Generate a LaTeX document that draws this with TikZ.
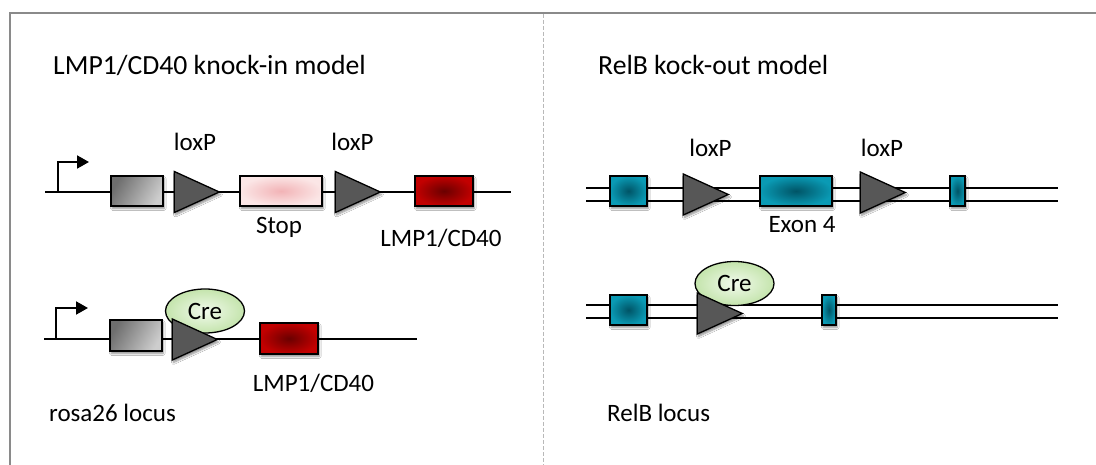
\documentclass[tikz,border=0pt]{standalone}
\usepackage{fontspec}
\setmainfont{Carlito}
\usetikzlibrary{arrows.meta,positioning,shapes.geometric,shadows.blur}
\definecolor{framegrey}{HTML}{8A8A8A}
\definecolor{loxgrey}{HTML}{575757}
\definecolor{greydark}{HTML}{6E6E6E}
\definecolor{greylight}{HTML}{CDCDCD}
\definecolor{stopin}{HTML}{F2B3B6}
\definecolor{stopout}{HTML}{FBE6E6}
\definecolor{lmpin}{HTML}{6A0000}
\definecolor{lmpout}{HTML}{C20000}
\definecolor{relin}{HTML}{005466}
\definecolor{relout}{HTML}{0A9AB4}
\definecolor{crein}{HTML}{F1FAEC}
\definecolor{creout}{HTML}{C4E4AC}

\begin{document}
\begin{tikzpicture}[
  x=1pt, y=-1pt,
  dna/.style={line width=2pt},
  dnadouble/.style={double, double distance=11pt, line width=2pt},
  prom/.style={line width=2pt, -{Triangle[length=12pt, width=13pt]}},
  exon/.style={draw, line width=2.2pt, inner sep=0pt, minimum height=30pt,
    blur shadow={shadow xshift=1.2pt, shadow yshift=-2.5pt, shadow blur steps=6, shadow opacity=45}},
  greybox/.style={left color=greydark, right color=greylight, shading angle=60},
  stopbox/.style={inner color=stopin, outer color=stopout},
  lmpbox/.style={inner color=lmpin, outer color=lmpout},
  relbox/.style={inner color=relin, outer color=relout},
  lox/.style={isosceles triangle, isosceles triangle stretches, shape border rotate=0,
    minimum width=41pt, minimum height=45pt, inner sep=0pt, anchor=apex,
    draw, line width=1.3pt, fill=loxgrey,
    blur shadow={shadow xshift=1.2pt, shadow yshift=-2.5pt, shadow blur steps=6, shadow opacity=45}},
  cre/.style={ellipse, draw, line width=1.3pt, inner color=crein, outer color=creout,
    minimum width=79pt, minimum height=44pt, inner sep=0pt, font=\fontsize{25}{30}\selectfont},
  lbl/.style={inner sep=0pt, anchor=base, font=\fontsize{25}{30}\selectfont},
  heading/.style={inner sep=0pt, anchor=base west, font=\fontsize{27.7}{33}\selectfont}
]
\useasboundingbox (0,0) rectangle (1096,465);
\fill[white] (0,0) rectangle (1096,465);
\draw[framegrey, line width=2pt] (10,465) -- (10,13) -- (1096,13);
\draw[gray!55, dashed, dash pattern=on 4pt off 2pt, line width=1pt] (543.5,14) -- (543.5,465);

\node[heading] (titleKI) at (53,75) {LMP1/CD40 knock-in model};
\node[heading] (titleKO) at (598,75) {RelB kock-out model};

\coordinate (startA) at (45,192);
\coordinate (endA) at (511,192);
\coordinate (tssA) at (58,192);
\draw[dna] (startA) -- (endA);
\draw[prom] (tssA) -- ++(0,-30) -- ++(31,0);
\node[exon, greybox, minimum width=52pt] (rosaA) at (137,191) {};
\node[lox] (loxA1) at (221,192) {};
\node[exon, stopbox, minimum width=82pt] (stopA) at (281,191) {};
\node[lox] (loxA2) at (382,192) {};
\node[exon, lmpbox, minimum width=58pt] (lmpA) at (444,191) {};
\node[lbl] (loxtA1) at (195,150.7) {loxP};
\node[lbl] (loxtA2) at (352.5,150.7) {loxP};
\node[lbl] (stoptA) at (279,233.3) {Stop};
\node[lbl] (lmptA) at (441,246.7) {LMP1/CD40};

\coordinate (startB) at (44,339);
\coordinate (endB) at (417,339);
\coordinate (tssB) at (56,339);
\draw[dna] (startB) -- (endB);
\draw[prom] (tssB) -- ++(0,-31) -- ++(32,0);
\node[exon, greybox, minimum width=52pt, minimum height=31pt] (rosaB) at (136,335.5) {};
\node[cre] (creB) at (205,311) {Cre};
\node[lox] (loxB) at (219,339.5) {};
\node[exon, lmpbox, minimum width=58pt, minimum height=31pt] (lmpB) at (289,338.5) {};
\node[lbl] (lmptB) at (313.5,391.7) {LMP1/CD40};
\node[lbl, anchor=base west] (locusB) at (49,421.7) {rosa26 locus};

\coordinate (startC) at (586,194.5);
\coordinate (endC) at (1058,194.5);
\draw[dnadouble] (startC) -- (endC);
\node[exon, relbox, minimum width=37pt] (exon3C) at (628.5,191) {};
\node[lox] (loxC1) at (730,194.5) {};
\node[exon, relbox, minimum width=72pt] (exon4C) at (796,191) {};
\node[lox] (loxC2) at (907,192.5) {};
\node[exon, relbox, minimum width=15pt] (exon5C) at (957.5,191) {};
\node[lbl] (loxtC1) at (710.5,156.7) {loxP};
\node[lbl] (loxtC2) at (882,156.7) {loxP};
\node[lbl] (exontC) at (802,232.3) {Exon 4};

\coordinate (startD) at (586,311.5);
\coordinate (endD) at (1058,311.5);
\draw[dnadouble] (startD) -- (endD);
\node[exon, relbox, minimum width=37pt] (exon3D) at (628.5,310) {};
\node[cre] (creD) at (734.5,283.5) {Cre};
\node[lox] (loxD) at (744,313.5) {};
\node[exon, relbox, minimum width=14pt] (exon5D) at (829,310) {};
\node[lbl, anchor=base west] (locusD) at (607,421.7) {RelB locus};
\end{tikzpicture}
\end{document}
